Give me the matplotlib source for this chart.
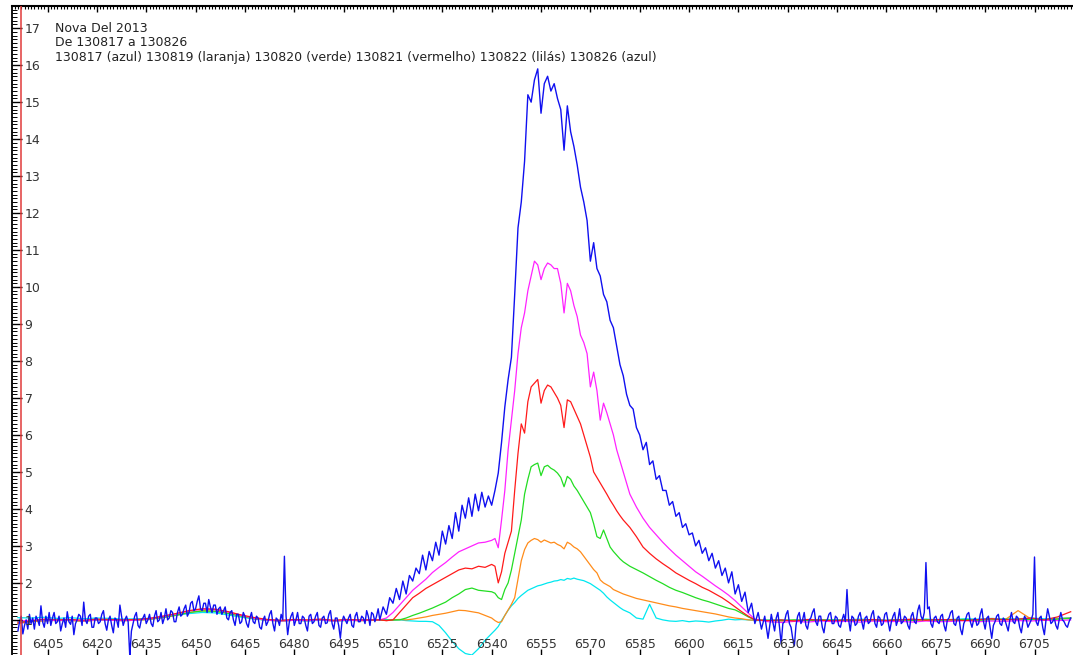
import numpy as np
import matplotlib
matplotlib.use("Agg")
import matplotlib.pyplot as plt
from matplotlib.ticker import MultipleLocator

# ---------------- data ----------------
title_lines = ["Nova Del 2013",
               "De 130817 a 130826",
               "130817 (azul) 130819 (laranja) 130820 (verde) 130821 (vermelho) 130822 (lilás) 130826 (azul)"]

xtick_values = list(range(6405, 6706, 15))
ytick_values = list(range(1, 18))

# shared wavelength grid for the five smoother spectra
wl_smooth = np.concatenate([np.arange(6396, 6505, 4), np.arange(6506, 6541, 2),
                            np.arange(6541, 6581, 1), np.arange(6582, 6621, 2),
                            np.arange(6624, 6717, 4)])

flux_cyan = [  # 130817
    1.06, 1.05, 1.07, 1.04, 1.06, 1.03, 1.05, 1.04, 1.02, 1.03, 1.04, 1.07, 1.12, 1.17,
    1.2, 1.19, 1.13, 1.07, 1.02, 0.99, 0.98, 0.99, 0.97, 0.99, 0.97, 0.98, 0.99, 1.0,
    1.0, 1.01, 0.99, 1.0, 0.98, 0.97, 0.96, 0.96, 0.95, 0.85, 0.65, 0.42, 0.22, 0.09,
    0.05, 0.22, 0.45, 0.63,
    0.72, 0.82, 0.98, 1.12, 1.26, 1.38, 1.47, 1.58, 1.66, 1.73, 1.8, 1.84, 1.88, 1.92,
    1.94, 1.97, 2.0, 2.02, 2.05, 2.06, 2.09, 2.07, 2.12, 2.1, 2.13, 2.1, 2.08, 2.06,
    2.02, 1.98, 1.92, 1.86, 1.8, 1.72, 1.62, 1.54, 1.47, 1.4, 1.33, 1.27,
    1.19, 1.05, 1.02, 1.42, 1.05, 1.0, 0.97, 0.96, 0.98, 0.95, 0.97, 0.96, 0.94, 0.97,
    0.99, 1.02, 1.0, 1.01, 1.0, 0.98,
    0.99, 1.0, 0.98, 1.0, 1.01, 0.99, 1.0, 1.02, 1.0, 0.99, 1.01, 1.0, 1.02, 1.0,
    1.01, 1.03, 1.02, 1.04, 1.02, 1.03, 1.05, 1.03, 1.04, 1.06]

flux_orange = [  # 130819
    0.9, 0.95, 0.97, 0.99, 0.98, 0.96, 0.99, 1.0, 0.98, 0.99, 1.01, 1.06, 1.12, 1.2,
    1.25, 1.24, 1.18, 1.1, 1.03, 0.99, 0.97, 0.99, 0.98, 1.0, 0.97, 0.99, 0.98, 0.99,
    1.0, 0.98, 1.0, 1.01, 1.0, 1.02, 1.05, 1.08, 1.12, 1.15, 1.18, 1.22, 1.26, 1.25,
    1.22, 1.19, 1.12, 1.05,
    0.98, 0.93, 0.95, 1.12, 1.27, 1.42, 1.6, 2.1, 2.6, 2.9, 3.08, 3.15, 3.2, 3.17,
    3.1, 3.16, 3.12, 3.08, 3.1, 3.04, 3.0, 2.92, 3.1, 3.05, 2.97, 2.92, 2.84, 2.72,
    2.6, 2.48, 2.36, 2.27, 2.08, 2.0, 1.95, 1.9, 1.82, 1.78, 1.74, 1.7,
    1.64, 1.58, 1.54, 1.5, 1.46, 1.42, 1.38, 1.35, 1.31, 1.28, 1.25, 1.22, 1.19, 1.16,
    1.12, 1.08, 1.05, 1.03, 1.0, 0.99,
    0.98, 0.97, 0.99, 0.98, 1.0, 0.97, 0.99, 1.0, 0.98, 0.99, 1.0, 0.98, 1.0, 0.99,
    1.01, 1.0, 0.99, 1.02, 1.0, 1.25, 1.02, 1.0, 1.03, 1.05]

flux_green = [  # 130820
    0.95, 0.97, 1.0, 0.98, 0.99, 0.97, 1.0, 0.99, 0.98, 0.99, 1.02, 1.07, 1.13, 1.2,
    1.24, 1.23, 1.17, 1.1, 1.03, 0.99, 0.97, 0.99, 0.98, 1.0, 0.98, 0.99, 0.98, 0.99,
    1.0, 0.99, 1.0, 1.0, 1.05, 1.12, 1.18, 1.25, 1.32, 1.4, 1.48, 1.6, 1.7, 1.82,
    1.86, 1.8, 1.78, 1.76,
    1.72, 1.6, 1.55, 1.82, 2.0, 2.35, 2.8, 3.25, 3.7, 4.4, 4.8, 5.14, 5.2, 5.24,
    4.9, 5.14, 5.18, 5.1, 5.05, 4.97, 4.85, 4.6, 4.88, 4.8, 4.62, 4.5, 4.35, 4.2,
    4.05, 3.9, 3.6, 3.25, 3.2, 3.43, 3.2, 2.97, 2.85, 2.75, 2.65, 2.57,
    2.45, 2.36, 2.27, 2.17, 2.07, 1.98, 1.88, 1.8, 1.74, 1.67, 1.6, 1.54, 1.49, 1.43,
    1.37, 1.31, 1.27, 1.18, 1.08, 1.0,
    0.99, 0.98, 1.0, 0.98, 0.99, 1.0, 0.98, 0.99, 1.0, 0.98, 1.0, 0.99, 1.01, 0.99,
    1.0, 1.01, 0.99, 1.0, 1.02, 1.0, 1.01, 0.99, 1.02, 1.04]

flux_red = [  # 130821
    0.92, 0.97, 1.02, 1.0, 1.01, 0.99, 1.02, 1.01, 1.0, 1.01, 1.04, 1.1, 1.17, 1.25,
    1.3, 1.29, 1.22, 1.13, 1.06, 1.01, 0.99, 1.01, 1.0, 1.02, 0.99, 1.01, 1.0, 1.0,
    1.0, 0.98, 1.0, 1.2, 1.4, 1.6, 1.72, 1.85, 1.95, 2.05, 2.15, 2.25, 2.35, 2.4,
    2.38, 2.45, 2.42, 2.5,
    2.45, 2.0, 2.3, 2.8, 3.1, 3.4, 4.5, 5.5, 6.3, 6.05, 6.9, 7.3, 7.4, 7.5,
    6.86, 7.2, 7.35, 7.3, 7.15, 7.0, 6.8, 6.2, 6.95, 6.9, 6.7, 6.5, 6.3, 6.0,
    5.7, 5.4, 5.0, 4.85, 4.7, 4.55, 4.4, 4.24, 4.1, 3.95, 3.82, 3.7,
    3.5, 3.25, 2.97, 2.8, 2.65, 2.52, 2.4, 2.27, 2.17, 2.07, 1.98, 1.88, 1.8, 1.7,
    1.6, 1.48, 1.35, 1.22, 1.1, 1.0,
    0.98, 1.0, 0.97, 1.01, 0.99, 0.98, 1.0, 0.99, 1.01, 0.98, 1.0, 1.02, 0.99, 1.01,
    1.0, 0.98, 1.01, 1.03, 1.0, 1.02, 1.05, 1.0, 1.08, 1.22]

flux_magenta = [  # 130822
    0.97, 0.99, 1.0, 0.98, 1.0, 0.97, 1.0, 0.99, 0.98, 0.99, 1.03, 1.09, 1.16, 1.24,
    1.29, 1.28, 1.21, 1.12, 1.04, 0.99, 0.97, 0.99, 0.98, 1.0, 0.97, 0.99, 0.98, 1.0,
    1.0, 1.05, 1.2, 1.4, 1.6, 1.8, 1.95, 2.1, 2.28, 2.42, 2.55, 2.7, 2.84, 2.92,
    3.0, 3.08, 3.1, 3.15,
    3.2, 2.95, 3.7, 4.5, 5.6, 6.4, 7.2, 8.2, 8.9, 9.3, 9.9, 10.3, 10.7, 10.6,
    10.2, 10.5, 10.65, 10.6, 10.5, 10.5, 10.1, 9.3, 10.1, 9.9, 9.5, 9.2, 8.7, 8.5,
    8.2, 7.3, 7.7, 7.2, 6.4, 6.86, 6.6, 6.3, 6.0, 5.6, 5.3, 5.0,
    4.4, 4.05, 3.75, 3.5, 3.3, 3.1, 2.92, 2.75, 2.6, 2.45, 2.3, 2.18, 2.05, 1.92,
    1.8, 1.67, 1.52, 1.35, 1.18, 1.02,
    0.95, 0.93, 0.96, 0.94, 0.97, 0.95, 0.96, 0.94, 0.97, 0.95, 0.96, 0.94, 0.97, 0.95,
    0.96, 0.98, 0.95, 0.97, 0.96, 0.98, 0.97, 0.99, 0.98, 1.0]

# 130826 (noisy): left continuum every 0.5 A from 6396
blue_left = [
    0.7, 0.95, 1.1, 0.62, 0.85, 1.0, 0.75, 1.15, 0.9, 1.05,
    0.75, 1.1, 1.0, 0.85, 1.38, 0.95, 0.8, 1.1, 0.9, 1.2,
    0.85, 1.05, 1.2, 0.9, 0.95, 1.1, 0.7, 0.9, 1.05, 0.8,
    1.22, 0.95, 0.88, 1.1, 0.6, 0.9, 1.0, 1.15, 1.1, 0.85,
    1.48, 1.0, 0.9, 1.1, 1.15, 0.8, 0.8, 1.05, 1.05, 0.9,
    0.95, 1.15, 1.25, 0.9, 0.72, 1.0, 1.1, 0.85, 0.65, 1.05,
    1.0, 0.8, 1.4, 1.1, 0.85, 1.0, 1.1, 0.95, 0.02, 0.7,
    0.9, 1.1, 1.2, 0.85, 0.78, 1.0, 1.05, 1.15, 0.9, 1.0,
    1.15, 0.9, 0.82, 1.1, 1.25, 0.95, 1.0, 1.2, 0.9, 1.05,
    1.3, 1.0, 1.05, 1.25, 1.2, 0.95, 0.95, 1.2, 1.35, 1.1,
    1.15, 1.3, 1.4, 1.1, 1.2, 1.45, 1.5, 1.25, 1.3, 1.5,
    1.65, 1.3, 1.25, 1.45, 1.45, 1.2, 1.55, 1.35, 1.2, 1.4,
    1.4, 1.15, 1.3, 1.35, 1.15, 1.25, 1.35, 1.05, 1.0, 1.2,
    1.25, 1.0, 0.85, 1.15, 1.15, 0.9, 0.95, 1.2, 1.1, 0.9,
    0.8, 1.05, 1.2, 0.95, 0.9, 1.1, 1.05, 0.8, 0.75, 1.0,
    1.1, 0.85, 0.95, 1.15, 1.25, 0.9, 0.7, 1.05, 1.0, 0.85,
    1.15, 1.0, 2.72, 1.1, 0.6, 0.95, 1.1, 1.2, 0.85, 1.0,
    1.2, 0.9, 0.9, 1.1, 1.05, 0.85, 0.7, 1.1, 1.15, 0.9,
    0.95, 1.1, 1.2, 0.85, 0.8, 1.05, 1.1, 0.9, 0.92, 1.15,
    1.25, 0.9, 0.75, 1.05, 1.05, 0.85, 0.5, 0.95, 1.1, 1.0,
    0.9, 1.05, 1.15, 0.85, 0.8, 1.1, 1.2, 0.95, 0.95, 1.1,
    1.05, 0.9, 1.25, 1.1, 0.85, 1.2, 1.15, 0.95, 1.1, 1.3]
# line region every 1 A from 6506
blue_line = [
    1.0, 1.35, 1.15, 1.6, 1.45, 1.85, 1.55, 2.05, 1.7, 2.2,
    2.05, 2.4, 2.25, 2.75, 2.35, 2.85, 2.6, 3.1, 2.75, 3.4,
    3.05, 3.55, 3.2, 3.9, 3.4, 4.1, 3.75, 4.3, 3.8, 4.4,
    3.95, 4.45, 4.05, 4.35, 4.1, 4.5, 4.97, 5.8, 6.76, 7.5,
    8.1, 9.8, 11.6, 12.3, 13.4, 15.2, 15.0, 15.6, 15.9, 14.7,
    15.5, 15.7, 15.3, 15.5, 15.1, 14.8, 13.7, 14.9, 14.2, 13.8,
    13.3, 12.7, 12.3, 11.8, 10.7, 11.2, 10.5, 10.3, 9.8, 9.6,
    9.1, 8.9, 8.4, 7.9, 7.6, 7.1, 6.8, 6.7, 6.2, 6.0,
    5.6, 5.8, 5.2, 5.3, 4.8, 4.9, 4.5, 4.5, 4.1, 4.2,
    3.8, 3.9, 3.5, 3.6, 3.3, 3.35, 3.0, 3.15, 2.8, 2.95,
    2.6, 2.8, 2.4, 2.6, 2.2, 2.4, 2.0, 2.3, 1.7, 1.95,
    1.5, 1.75, 1.2, 1.45, 0.9, 1.2, 0.75, 1.1, 0.5, 1.15]
# right continuum every 0.5 A from 6626
blue_right = [
    0.7, 1.05, 1.2, 0.8, 0.35, 0.9, 0.95, 1.15, 1.25, 0.9,
    0.8, 0.5, 0.3, 0.85, 1.1, 1.2, 0.9, 1.0, 1.2, 0.85,
    0.75, 1.0, 1.05, 1.2, 1.3, 0.95, 0.85, 1.1, 1.1, 0.8,
    0.65, 0.95, 1.0, 1.15, 1.2, 0.9, 0.9, 1.1, 1.05, 0.85,
    0.8, 1.0, 1.15, 0.95, 1.82, 1.0, 0.7, 1.1, 1.05, 0.85,
    0.9, 1.1, 1.2, 0.95, 0.75, 1.05, 1.1, 0.9, 0.95, 1.15,
    1.25, 0.9, 0.8, 1.1, 1.05, 0.85, 0.9, 1.15, 1.2, 0.95,
    0.7, 0.95, 1.1, 1.2, 0.85, 1.0, 1.3, 0.9, 0.95, 1.1,
    1.05, 0.85, 0.75, 1.1, 1.2, 0.95, 0.9, 1.25, 1.4, 1.1,
    1.0, 1.2, 2.55, 1.3, 1.35, 0.9, 0.8, 1.05, 1.1, 0.95,
    0.9, 1.1, 1.15, 0.85, 0.7, 1.0, 1.05, 1.2, 1.25, 0.9,
    0.85, 1.05, 1.1, 0.75, 0.6, 0.9, 1.0, 1.15, 1.2, 0.95,
    0.8, 1.0, 1.05, 0.85, 0.9, 1.15, 1.3, 0.95, 0.75, 1.05,
    1.1, 0.8, 0.5, 0.85, 0.95, 1.1, 1.15, 0.9, 0.85, 1.05,
    1.0, 0.85, 0.7, 1.0, 1.2, 0.95, 0.9, 1.1, 1.05, 0.8,
    0.65, 0.95, 1.1, 1.0, 0.8, 0.9, 1.0, 1.15, 2.7, 0.95,
    0.85, 1.05, 1.1, 0.8, 0.6, 1.0, 1.3, 1.1, 0.9, 0.95,
    1.05, 0.85, 0.75, 1.0, 1.2, 1.0, 0.95, 0.85, 0.8, 0.95,
    1.05]
wl_blue = np.concatenate([6396 + 0.5 * np.arange(len(blue_left)),
                          6506 + np.arange(len(blue_line)),
                          6626 + 0.5 * np.arange(len(blue_right))])
flux_blue = blue_left + blue_line + blue_right

marker_line_wl = 6397.0

# ---------------- figure ----------------
W, H = 1073, 655
fig = plt.figure(figsize=(W / 100, H / 100), dpi=100)
fig.patch.set_facecolor("white")
ax = fig.add_axes([12 / W, 0, 1 - 12 / W, (H - 6) / H])

series = [
    (wl_smooth, flux_cyan, "#00E8F0", 0.9),
    (wl_smooth, flux_orange, "#FF8C1A", 0.9),
    (wl_smooth, flux_green, "#22DD22", 0.9),
    (wl_smooth, flux_magenta, "#FF22FF", 0.9),
    (wl_smooth, flux_red, "#FF1A1A", 0.9),
    (wl_blue, flux_blue, "#1010F0", 1.0),
]
for i, (wl, fl, c, lw) in enumerate(series):
    ax.plot(wl, fl, color=c, lw=lw, zorder=1 + 0.1 * i)

ax.axvline(marker_line_wl, color="#E03a3a", lw=1.1, zorder=3)

ax.set_xlim(6394.2, 6716.7)
ax.set_ylim(0.05, 17.6)

for s in ["right", "bottom"]:
    ax.spines[s].set_visible(False)
ax.spines["left"].set_linewidth(1.3)
ax.spines["top"].set_linewidth(1.5)

ax.set_xticks(xtick_values)
ax.set_xticklabels([str(v) for v in xtick_values])
ax.xaxis.set_minor_locator(MultipleLocator(1))
ax.tick_params(axis="x", which="major", direction="in", length=4, width=1,
               top=True, bottom=True, labelsize=9, labelcolor="#333333", pad=-12)
ax.tick_params(axis="x", which="minor", direction="in", length=2.5, width=0.8,
               top=True, bottom=False)

ax.set_yticks(ytick_values)
ax.set_yticklabels([str(v) for v in ytick_values])
ax.yaxis.set_minor_locator(MultipleLocator(0.1))
ax.tick_params(axis="y", which="major", direction="in", length=7, width=1,
               labelsize=9, labelcolor="#333333", pad=-9)
ax.tick_params(axis="y", which="minor", direction="in", length=3.5, width=0.7)
for lbl in ax.get_yticklabels():
    lbl.set_horizontalalignment("left")

for k, line in enumerate(title_lines):
    fig.text(55 / W, 1 - (28 + 15 * k) / H, line, fontsize=9, color="#222222",
             ha="left", va="center")

fig.savefig("out.png", dpi=100)
